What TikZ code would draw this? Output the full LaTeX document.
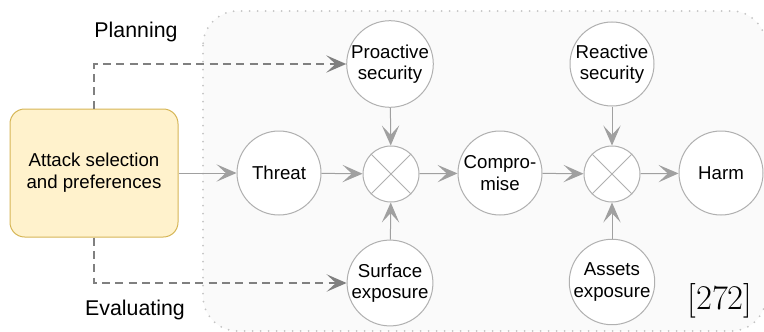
\documentclass[tikz,border=0pt]{standalone}
\usepackage{fontspec}
\setmainfont{Liberation Sans}
\newfontfamily\refserif{Latin Modern Roman}
\usetikzlibrary{arrows.meta}
\definecolor{framefill}{HTML}{FAFAFA}
\definecolor{framedot}{HTML}{C4C4C4}
\definecolor{ringgray}{HTML}{B0B0B0}
\definecolor{flowgray}{HTML}{A0A0A0}
\definecolor{dashgray}{HTML}{808080}
\definecolor{notefill}{HTML}{FFF2CC}
\definecolor{notedraw}{HTML}{D6B656}
\tikzset{
  factor/.style={circle, draw=ringgray, fill=white, line width=0.75pt,
    minimum size=63pt, inner sep=0pt, align=center, font=\fontsize{14}{16}\selectfont},
  oper/.style={circle, draw=ringgray, fill=white, line width=0.75pt,
    minimum size=42pt, inner sep=0pt},
  flow/.style={draw=flowgray, line width=0.75pt,
    -{Stealth[length=15pt, width=13pt, inset=7pt, fill=flowgray]}},
  plan/.style={draw=dashgray, line width=1.5pt, dash pattern=on 6pt off 4pt,
    -{Stealth[length=15pt, width=13pt, inset=7pt, fill=dashgray]}},
  caption/.style={font=\fontsize{16}{18}\selectfont}
}
\begin{document}
\begin{tikzpicture}[x=0.75pt, y=-0.75pt]
\useasboundingbox (0,0) rectangle (764,332);
% shaded frame around the causal chain
\draw[fill=framefill, draw=framedot, line width=1.5pt, line cap=round,
      dash pattern=on 0pt off 6pt, rounded corners=26pt]
  (203,11) rectangle (766,331);

% source box
\node (attack) [draw=notedraw, fill=notefill, line width=0.75pt, rounded corners=11pt,
  minimum width=126pt, minimum height=96pt, align=center,
  font=\fontsize{14}{16.5}\selectfont] at (94,173) {Attack selection\\and preferences};

% chain of factors
\node (threat) [factor] at (279,173) {Threat};
\node (op1) [oper] at (391,174) {};
\node (pro) [factor] at (390,64) {Proactive\\security};
\node (surf) [factor] at (390,283) {Surface\\exposure};
\node (comp) [factor] at (500,173) {Compro-\\mise};
\node (op2) [oper] at (612,174) {};
\node (rea) [factor] at (612,64) {Reactive\\security};
\node (assets) [factor] at (612,282) {Assets\\exposure};
\node (harm) [factor] at (721,173) {Harm};

% crosses inside the combining operators
\foreach \o in {op1,op2}{
  \draw[ringgray, line width=0.75pt] (\o.north east) -- (\o.south west);
  \draw[ringgray, line width=0.75pt] (\o.north west) -- (\o.south east);
}

% arrows along the chain
\draw[flow] (attack) -- (threat);
\draw[flow] (threat) -- (op1);
\draw[flow] (op1) -- (comp);
\draw[flow] (pro) -- (op1);
\draw[flow] (surf) -- (op1);
\draw[flow] (comp) -- (op2);
\draw[flow] (rea) -- (op2);
\draw[flow] (assets) -- (op2);
\draw[flow] (op2) -- (harm);

% planning and evaluating paths
\draw[plan] (attack.north) |- (pro.west);
\draw[plan] (attack.south) |- (surf.west);
\node (planning) [caption] at (136,32) {Planning};
\node (evaluating) [caption] at (135,310) {Evaluating};

% citation mark
\node (cite) [font=\refserif\fontsize{26}{30}\selectfont, anchor=base] at (720,309) {[272]};
\end{tikzpicture}
\end{document}
